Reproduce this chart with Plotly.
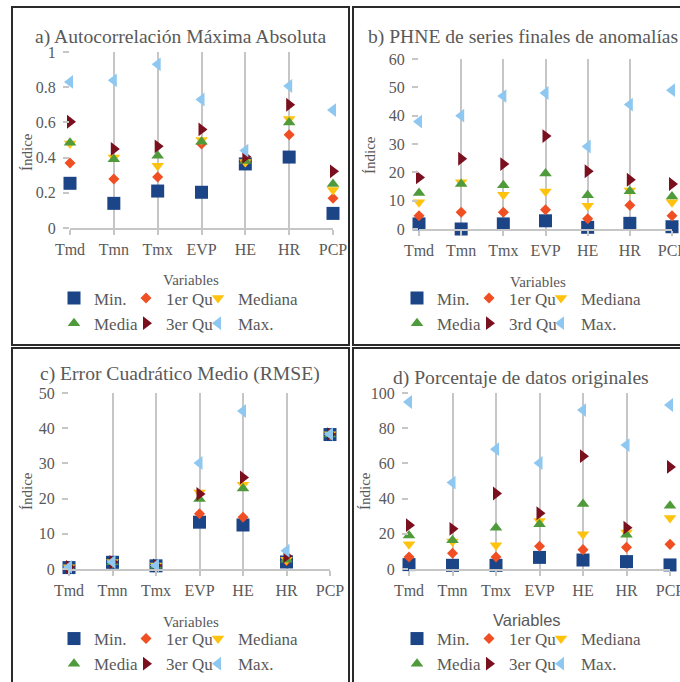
import plotly.graph_objects as go

categories = ["Tmd", "Tmn", "Tmx", "EVP", "HE", "HR", "PCP"]
names_std = ["Min.", "1er Qu", "Mediana", "Media", "3er Qu", "Max."]
names_b = ["Min.", "1er Qu", "Mediana", "Media", "3rd Qu", "Max."]

# a) Autocorrelación Máxima Absoluta
a_min = [0.254, 0.14, 0.21, 0.203, 0.364, 0.403, 0.083]
a_q1 = [0.369, 0.278, 0.29, 0.477, 0.377, 0.53, 0.169]
a_med = [0.48, 0.40, 0.354, 0.50, 0.375, 0.62, 0.216]
a_mean = [0.485, 0.39, 0.41, 0.49, 0.38, 0.60, 0.25]
a_q3 = [0.604, 0.449, 0.464, 0.56, 0.405, 0.70, 0.322]
a_max = [0.83, 0.839, 0.93, 0.73, 0.44, 0.807, 0.67]

# b) PHNE de series finales de anomalías
b_min = [1.8, 0.0, 1.8, 2.9, 0.6, 2.0, 0.8]
b_q1 = [4.7, 5.9, 5.9, 6.8, 3.6, 8.4, 4.7]
b_med = [9.4, 16.5, 12.1, 13.2, 8.2, 13.6, 9.4]
b_mean = [12.7, 15.9, 15.4, 19.6, 11.9, 13.3, 11.5]
b_q3 = [18.2, 24.8, 22.9, 32.8, 20.4, 17.4, 15.9]
b_max = [37.9, 40.0, 46.9, 48.0, 29.1, 43.9, 49.0]

# c) Error Cuadrático Medio (RMSE)
c_min = [0.4, 1.9, 0.9, 13.3, 12.5, 2.0, 38.2]
c_q1 = [0.5, 1.9, 0.9, 15.7, 14.7, 2.4, 38.2]
c_med = [0.5, 2.0, 1.0, 21.7, 23.9, 2.6, 38.3]
c_mean = [0.5, 1.9, 0.9, 19.9, 22.9, 2.6, 38.2]
c_q3 = [0.6, 2.0, 1.0, 21.3, 26.0, 3.7, 38.3]
c_max = [0.6, 2.0, 1.0, 30.1, 44.9, 5.2, 38.3]

# d) Porcentaje de datos originales
d_min = [2.5, 2.1, 2.1, 6.6, 5.1, 4.2, 2.3]
d_q1 = [6.8, 8.9, 6.8, 12.9, 11.0, 12.3, 14.0]
d_med = [14.0, 15.6, 13.5, 27.3, 19.7, 20.7, 29.0]
d_mean = [19.0, 16.3, 23.5, 25.4, 37.0, 19.4, 36.0]
d_q3 = [24.9, 22.8, 42.9, 31.7, 64.1, 23.5, 58.0]
d_max = [94.9, 49.1, 68.1, 60.2, 90.3, 70.4, 93.2]

W, H = 680, 682
GRAY = "#595959"
GRID = "#c6c6c6"
SERIF = "Liberation Serif"
SANS = "Liberation Sans"

colors = ["#1b4587", "#f04e23", "#ffc20e", "#4f9a3b", "#7a0f1e", "#8ec8f0"]
symbols = ["square", "diamond", "triangle-down", "triangle-up", "triangle-right", "triangle-left"]
sizes = [13, 8.5, 11, 11, 12, 12]
groups = ["c1", "c2", "c3", "c1", "c2", "c3"]
legwidths = [36, 36, 80, 36, 36, 80]

def px_x(p):
    return p / W

def px_y(p):
    return 1 - p / H

panels = [
    dict(series=[a_min, a_q1, a_med, a_mean, a_q3, a_max], names=names_std,
         title="a) Autocorrelación Máxima Absoluta", tx=180, ty=37, tanchor="center",
         xd=(70, 333), y0=228, ytop=52, yr=(0, 1), dtick=0.2,
         ind=(27, 152), var=(191, 280), varfont=SERIF, varsize=15, leg=(63, 280.5)),
    dict(series=[b_min, b_q1, b_med, b_mean, b_q3, b_max], names=names_b,
         title="b) PHNE de series finales de anomalías", tx=366, ty=37, tanchor="left",
         xd=(419, 672), y0=229, ytop=59, yr=(0, 60), dtick=10,
         ind=(370, 155), var=(538, 282), varfont=SERIF, varsize=15, leg=(406, 280.5)),
    dict(series=[c_min, c_q1, c_med, c_mean, c_q3, c_max], names=names_std,
         title="c) Error Cuadrático Medio (RMSE)", tx=180, ty=374, tanchor="center",
         xd=(69, 330), y0=569, ytop=393, yr=(0, 50), dtick=10,
         ind=(27, 491), var=(191, 622), varfont=SERIF, varsize=15, leg=(63, 621)),
    dict(series=[d_min, d_q1, d_med, d_mean, d_q3, d_max], names=names_std,
         title="d) Porcentaje de datos originales", tx=521, ty=378, tanchor="center",
         xd=(409, 670), y0=569, ytop=393, yr=(0, 100), dtick=20,
         ind=(365, 491), var=(527, 620), varfont=SANS, varsize=16.5, leg=(406, 621)),
]

fig = go.Figure()
annotations = []
layout_extra = {}

for i, p in enumerate(panels):
    k = "" if i == 0 else str(i + 1)
    legname = "legend" + k
    for j, vals in enumerate(p["series"]):
        fig.add_trace(go.Scatter(
            x=categories, y=vals, mode="markers", name=p["names"][j],
            xaxis="x" + k, yaxis="y" + k, legend=legname,
            legendgroup=f"p{i}{groups[j]}", legendwidth=legwidths[j],
            marker=dict(symbol=symbols[j], color=colors[j], size=sizes[j], line=dict(width=0)),
            cliponaxis=False,
        ))
    layout_extra["xaxis" + k] = dict(
        domain=[px_x(p["xd"][0]), px_x(p["xd"][1])], anchor="y" + k,
        type="category", range=[0, 6], showgrid=True, gridcolor=GRID, gridwidth=1.5,
        showline=True, linecolor=GRID, linewidth=1.5,
        ticks="outside", ticklen=5, tickcolor=GRID, tickwidth=1.5,
        tickfont=dict(family=SERIF, size=16, color=GRAY), ticklabelstandoff=1,
        zeroline=False, fixedrange=True,
    )
    layout_extra["yaxis" + k] = dict(
        domain=[px_y(p["y0"]), px_y(p["ytop"])], anchor="x" + k,
        range=list(p["yr"]), dtick=p["dtick"], tick0=0, showgrid=False, zeroline=False,
        showline=False, ticks="outside", ticklen=6, tickcolor=GRID, tickwidth=1.5,
        tickfont=dict(family=SERIF, size=16, color=GRAY), ticklabelstandoff=4,
        fixedrange=True,
    )
    layout_extra[legname] = dict(
        orientation="h", traceorder="grouped", tracegroupgap=0, indentation=-9,
        x=px_x(p["leg"][0]), y=px_y(p["leg"][1]), xanchor="left", yanchor="top",
        xref="paper", yref="paper", entrywidthmode="pixels",
        font=dict(family=SERIF, size=17, color=GRAY), bgcolor="rgba(0,0,0,0)",
        itemclick=False, itemdoubleclick=False,
    )
    annotations.append(dict(
        text=p["title"], x=px_x(p["tx"]), y=px_y(p["ty"]), xref="paper", yref="paper",
        xanchor=p["tanchor"], yanchor="middle", showarrow=False,
        font=dict(family=SERIF, size=19.6, color=GRAY)))
    annotations.append(dict(
        text="Índice", x=px_x(p["ind"][0]), y=px_y(p["ind"][1]), xref="paper", yref="paper",
        xanchor="center", yanchor="middle", showarrow=False, textangle=-90,
        font=dict(family=SERIF, size=15, color=GRAY)))
    annotations.append(dict(
        text="Variables", x=px_x(p["var"][0]), y=px_y(p["var"][1]), xref="paper", yref="paper",
        xanchor="center", yanchor="middle", showarrow=False,
        font=dict(family=p["varfont"], size=p["varsize"], color=GRAY)))

shapes = []
for (x0, y0, x1, y1) in [(12, 7, 349, 345), (353, 7, 690, 345), (12, 348, 349, 692), (353, 348, 690, 692)]:
    shapes.append(dict(type="rect", xref="paper", yref="paper",
                       x0=px_x(x0), x1=px_x(x1), y0=px_y(y1), y1=px_y(y0),
                       line=dict(color="#2a2a2a", width=2), fillcolor="rgba(0,0,0,0)", layer="above"))

fig.update_layout(
    width=W, height=H, margin=dict(l=0, r=0, t=0, b=0, autoexpand=False),
    paper_bgcolor="white", plot_bgcolor="white",
    annotations=annotations, shapes=shapes, showlegend=True,
    **layout_extra,
)

fig.write_html("out.html", config={"displayModeBar": False})
